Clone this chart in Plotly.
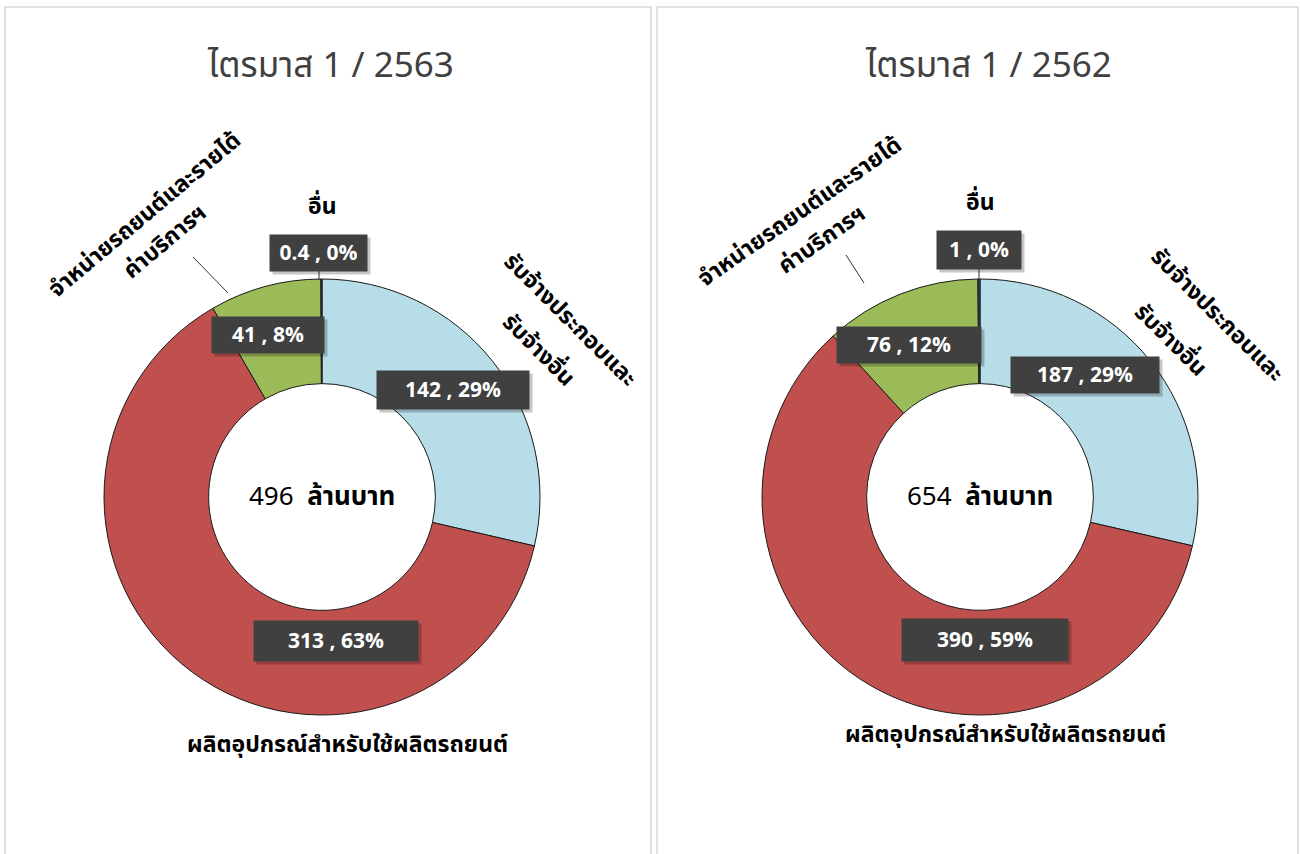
import plotly.graph_objects as go

W, H = 1300, 854

# ---- data ----
categories = ["รับจ้างประกอบและรับจ้างอื่น", "ผลิตอุปกรณ์สำหรับใช้ผลิตรถยนต์",
              "จำหน่ายรถยนต์และรายได้ค่าบริการฯ", "อื่น"]
values_2563 = [142, 313, 41, 0.4]
values_2562 = [187, 390, 76, 1]
pct_2563 = [29, 63, 8, 0]
pct_2562 = [29, 59, 12, 0]
totals = [496, 654]
titles = ["ไตรมาส 1 / 2563", "ไตรมาส 1 / 2562"]

colors = ["#B7DDE8", "#C0504D", "#9BBB59", "#2C4D75"]
THAI = "Tahoma, 'Noto Sans Thai', 'Noto Sans Thai UI', 'Noto Sans', sans-serif"


def px(x):
    return x / W


def py(y):
    return 1 - y / H


fig = go.Figure()

centers = [(322, 497), (980, 497)]
R = 218
for (cx, cy), vals in zip(centers, [values_2563, values_2562]):
    fig.add_trace(go.Pie(
        labels=categories, values=vals, sort=False, direction="clockwise",
        rotation=0, hole=0.52, textinfo="none", hoverinfo="label+value",
        marker=dict(colors=colors, line=dict(color="#1a1a1a", width=1)),
        domain=dict(x=[px(cx - R), px(cx + R)], y=[py(cy + R), py(cy - R)]),
        showlegend=False,
    ))

shapes = []
# panel borders
for x0, x1 in [(5, 651), (657, 1298)]:
    shapes.append(dict(type="rect", xref="paper", yref="paper",
                       x0=px(x0), x1=px(x1), y0=py(860), y1=py(7),
                       line=dict(color="#d9d9d9", width=1.5)))
# leader lines
for (x0, y0, x1, y1) in [(193, 257, 228, 293), (319, 270, 319, 280),
                         (846, 255, 864, 283), (979, 268, 979, 282)]:
    shapes.append(dict(type="line", xref="paper", yref="paper",
                       x0=px(x0), y0=py(y0), x1=px(x1), y1=py(y1),
                       line=dict(color="#333333", width=1)))

ann = []


def add_text(text, x, y, size, color, angle=0, **kw):
    ann.append(dict(text=text, x=px(x), y=py(y), xref="paper", yref="paper",
                    xanchor="center", yanchor="middle", showarrow=False,
                    textangle=angle, font=dict(family=THAI, size=size, color=color), **kw))


# titles
for (cx, _), t in zip(centers, titles):
    add_text(t, cx + 8, 67, 35, "#404040")
# centre totals
for (cx, cy), tot in zip(centers, totals):
    add_text(f"{tot}  <b>ล้านบาท</b>", cx, cy, 26, "#000000")

# value boxes (centre x, centre y, width, height) per slice
boxes_2563 = [(453, 390, 150, 36), (336, 641, 162, 38), (268, 335, 110, 34), (318, 253, 95, 34)]
boxes_2562 = [(1085, 375, 146, 34), (985, 640, 164, 40), (909, 345, 142, 34), (979, 250, 82, 36)]
for vals, pcts, boxes in [(values_2563, pct_2563, boxes_2563), (values_2562, pct_2562, boxes_2562)]:
    for v, p, (bx, by, bw, bh) in zip(vals, pcts, boxes):
        add_text("", bx + 3, by + 3, 10, "#000", width=bw, height=bh,
                 bgcolor="rgba(0,0,0,0.22)")
        add_text(f"<b>{v:g} , {p}%</b>", bx, by, 21, "#ffffff", width=bw, height=bh,
                 bgcolor="#404040")

# category labels: (text, x, y, angle)
cat_labels = [
    ("อื่น", 322, 207, 0),
    ("ผลิตอุปกรณ์สำหรับใช้ผลิตรถยนต์", 347, 745, 0),
    ("จำหน่ายรถยนต์และรายได้", 145, 215, -40),
    ("ค่าบริการฯ", 165, 242, -40),
    ("รับจ้างประกอบและ", 570, 320, 45),
    ("รับจ้างอื่น", 538, 350, 45),
    ("อื่น", 980, 203, 0),
    ("ผลิตอุปกรณ์สำหรับใช้ผลิตรถยนต์", 1005, 735, 0),
    ("จำหน่ายรถยนต์และรายได้", 800, 212, -35),
    ("ค่าบริการฯ", 822, 240, -35),
    ("รับจ้างประกอบและ", 1217, 315, 45),
    ("รับจ้างอื่น", 1170, 340, 45),
]
for t, x, y, a in cat_labels:
    add_text(f"<b>{t}</b>", x, y, 23, "#000000", angle=a)

fig.update_layout(width=W, height=H, margin=dict(l=0, r=0, t=0, b=0),
                  paper_bgcolor="#ffffff", plot_bgcolor="#ffffff",
                  shapes=shapes, annotations=ann)

fig.write_html("out.html", config={"displayModeBar": False},
               post_script="document.body.style.margin='0px';")
